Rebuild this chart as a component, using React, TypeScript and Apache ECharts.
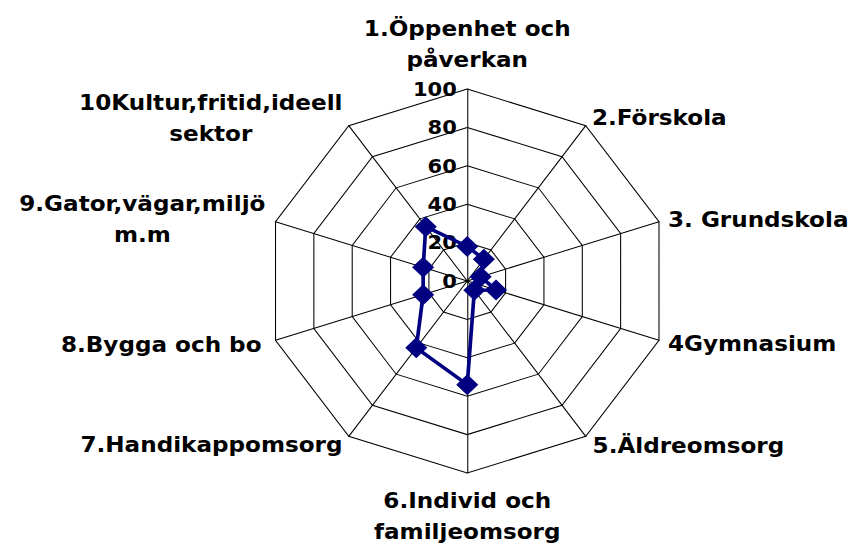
import React, { useEffect, useRef } from 'react';
import * as echarts from 'echarts';

// Axis categories (clockwise from the top, as in the reference)
const categories: string[] = [
  '1.Öppenhet och\npåverkan',
  '2.Förskola',
  '3. Grundskola',
  '4Gymnasium',
  '5.Äldreomsorg',
  '6.Individ och\nfamiljeomsorg',
  '7.Handikappomsorg',
  '8.Bygga och bo',
  '9.Gator,vägar,miljö\nm.m',
  '10Kultur,fritid,ideell\nsektor',
];

// Series values (same order as categories)
const values: number[] = [18, 14, 7, 15, 6, 54, 43, 23, 23, 35];

// Value axis ticks
const axisMin = 0;
const axisMax = 100;
const tickStep = 20;

// Layout only: distance of each category name from its axis end
const nameGaps: number[] = [14, 10, 9, 9, 11, 12, 10, 14, 10, 10];

export default function App() {
  const ref = useRef<HTMLDivElement>(null);

  useEffect(() => {
    if (!ref.current) return;
    const chart = echarts.init(ref.current, null, { renderer: 'svg' });
    const n = categories.length;
    // ECharts radar runs counter-clockwise; reorder to get a clockwise layout
    const order = [0, ...Array.from({ length: n - 1 }, (_, i) => n - 1 - i)];
    const font = 'DejaVu Sans';

    const indicator = order.map((idx, k) => ({
      name: categories[idx],
      min: axisMin,
      max: axisMax,
      nameGap: nameGaps[idx],
      axisLabel: { show: k === 0 },
    }));

    chart.setOption({
      animation: false,
      backgroundColor: '#ffffff',
      radar: {
        center: [445, 281],
        radius: 192,
        startAngle: 90,
        shape: 'polygon',
        splitNumber: (axisMax - axisMin) / tickStep,
        indicator,
        axisName: {
          color: '#000',
          fontFamily: font,
          fontWeight: 'bold',
          fontSize: 22,
          lineHeight: 31,
          formatter: (name: string) =>
            name
              .split('\n')
              .map((l) => `{c|${l}}`)
              .join('\n'),
          rich: {
            c: {
              align: 'center',
              color: '#000',
              fontFamily: font,
              fontWeight: 'bold',
              fontSize: 22,
              lineHeight: 31,
            },
          },
        },
        axisLine: { lineStyle: { color: '#000', width: 1 } },
        splitLine: { lineStyle: { color: '#000', width: 1 } },
        splitArea: { show: false },
        axisTick: { show: false },
        axisLabel: {
          show: false,
          color: '#000',
          fontFamily: font,
          fontWeight: 'bold',
          fontSize: 20,
          margin: 10,
        },
      },
      series: [
        {
          type: 'radar',
          symbol: 'diamond',
          symbolSize: 21,
          data: [{ value: order.map((i) => values[i]), name: 'Serie 1' }],
          lineStyle: { color: '#000080', width: 3.5 },
          itemStyle: { color: '#000080' },
        },
      ],
    });

    return () => chart.dispose();
  }, []);

  return (
    <div
      style={{
        position: 'fixed',
        left: 0,
        top: 0,
        width: 853,
        height: 550,
        overflow: 'hidden',
        background: '#fff',
      }}
    >
      <div
        ref={ref}
        style={{
          width: 812,
          height: 550,
          transform: 'scaleX(1.05)',
          transformOrigin: '0 0',
        }}
      />
    </div>
  );
}
